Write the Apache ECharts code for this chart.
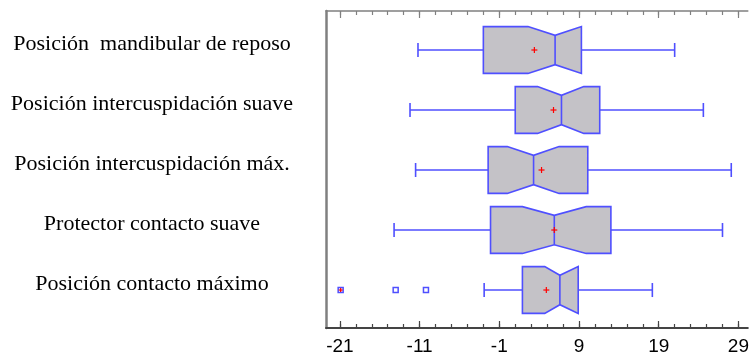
<!DOCTYPE html>
<html>
<head>
<meta charset="utf-8">
<script src="https://cdn.jsdelivr.net/npm/echarts@6/dist/echarts.min.js"></script>
<style>
  html, body { margin: 0; padding: 0; background: #fff; }
  #chart { width: 752px; height: 358px; }
</style>
</head>
<body>
<div id="chart"></div>
<script>
// Notched box plots of five mandibular positions
const categories = [
  'Posición  mandibular de reposo',
  'Posición intercuspidación suave',
  'Posición intercuspidación máx.',
  'Protector contacto suave',
  'Posición contacto máximo'
];
const whiskerLow  = [-11.2, -12.2, -11.5, -14.2, -2.9];
const q1          = [-3.0,   1.0,  -2.4,  -2.1,   1.9];
const notchLow    = [ 2.6,   3.8,   0.0,   1.9,   4.7];
const median      = [ 6.0,   6.8,   3.3,   5.9,   6.6];
const notchHigh   = [ 9.3,   9.6,   6.5,   9.9,   8.9];
const q3          = [ 9.3,  11.6,  10.1,  13.0,   8.9];
const whiskerHigh = [21.0,  24.6,  28.1,  27.0,  18.2];
const means       = [ 3.4,   5.8,   4.3,   5.9,   4.9];
// outside points: [value, category index]
const outsidePoints = [[-14.0, 4], [-10.2, 4]];
const farOutsidePoints = [[-20.9, 4]];
const tickLabels = [-21, -11, -1, 9, 19, 29];

const minorTicks = [];
for (let v = tickLabels[0]; v <= tickLabels[tickLabels.length - 1]; v += 2) minorTicks.push(v);

const AXIS_MIN = -22.74, AXIS_MAX = 30.18;
const BLUE = '#4f4fff';
const FILL = '#c4c2c7';

const boxData = categories.map((c, i) => [
  i + 1, whiskerLow[i], q1[i], notchLow[i], median[i], notchHigh[i], q3[i], whiskerHigh[i], means[i]
]);

function renderBox(params, api) {
  const y = api.value(0);
  const unit = api.size([0, 1])[1];
  const half = unit * 0.39, waist = unit * 0.245, cap = unit * 0.117;
  const X = v => api.coord([v, y])[0];
  const cy = api.coord([0, y])[1];
  const wl = X(api.value(1)), a = X(api.value(2)), nl = X(Math.max(api.value(3), api.value(2)));
  const md = X(api.value(4)), nh = X(Math.min(api.value(5), api.value(6))), b = X(api.value(6));
  const wh = X(api.value(7)), mn = X(api.value(8));
  const line = { stroke: BLUE, lineWidth: 1.6 };
  const children = [
    { type: 'line', shape: { x1: wl, y1: cy, x2: a, y2: cy }, style: line },
    { type: 'line', shape: { x1: b, y1: cy, x2: wh, y2: cy }, style: line },
    { type: 'line', shape: { x1: wl, y1: cy - cap, x2: wl, y2: cy + cap }, style: line },
    { type: 'line', shape: { x1: wh, y1: cy - cap, x2: wh, y2: cy + cap }, style: line },
    { type: 'polygon', shape: { points: [
        [a, cy - half], [nl, cy - half], [md, cy - waist], [nh, cy - half], [b, cy - half],
        [b, cy + half], [nh, cy + half], [md, cy + waist], [nl, cy + half], [a, cy + half]
      ] }, style: { fill: FILL, stroke: BLUE, lineWidth: 1.6 } },
    { type: 'line', shape: { x1: md, y1: cy - waist, x2: md, y2: cy + waist }, style: line },
    { type: 'line', shape: { x1: mn - 3, y1: cy, x2: mn + 3, y2: cy }, style: { stroke: '#ff0000', lineWidth: 1.2 } },
    { type: 'line', shape: { x1: mn, y1: cy - 3, x2: mn, y2: cy + 3 }, style: { stroke: '#ff0000', lineWidth: 1.2 } }
  ];
  return { type: 'group', children };
}

function renderPlus(params, api) {
  const p = api.coord([api.value(0), api.value(1)]);
  return { type: 'group', children: [
    { type: 'line', shape: { x1: p[0] - 2, y1: p[1], x2: p[0] + 2, y2: p[1] }, style: { stroke: '#ff0000', lineWidth: 1.2 } },
    { type: 'line', shape: { x1: p[0], y1: p[1] - 2, x2: p[0], y2: p[1] + 2 }, style: { stroke: '#ff0000', lineWidth: 1.2 } }
  ] };
}

const tickFont = { fontFamily: '"Liberation Sans Narrow", "Arial Narrow", "Liberation Sans", Arial, sans-serif', fontSize: 19, color: '#000' };

function xAxisDef(position, ticks, len, showLine, lineColor, showLabels) {
  return {
    type: 'value', position, min: AXIS_MIN, max: AXIS_MAX,
    axisLine: { show: showLine, onZero: false, lineStyle: { color: lineColor, width: position === 'bottom' ? 2 : 1.5 } },
    axisTick: { show: true, inside: true, length: len, customValues: ticks, lineStyle: { color: lineColor, width: 1.2 } },
    axisLabel: showLabels
      ? Object.assign({ show: true, customValues: tickLabels, margin: 9 }, tickFont)
      : { show: false },
    splitLine: { show: false }
  };
}

const chart = echarts.init(document.getElementById('chart'), null, { renderer: 'canvas' });
chart.setOption({
  animation: false,
  backgroundColor: '#fff',
  grid: { left: 326, right: 0, top: 11, bottom: 30, containLabel: false },
  xAxis: [
    xAxisDef('bottom', tickLabels, 7, true, '#444', true),
    xAxisDef('bottom', minorTicks, 4, false, '#444', false),
    xAxisDef('top', tickLabels, 7, true, '#808080', false),
    xAxisDef('top', minorTicks, 4, false, '#808080', false)
  ],
  yAxis: {
    type: 'value', inverse: true, min: 0.35, max: 5.633, position: 'left',
    axisLine: { show: true, onZero: false, lineStyle: { color: '#808080', width: 2.5 } },
    axisTick: { show: false },
    splitLine: { show: false },
    axisLabel: {
      customValues: categories.map((c, i) => i + 1),
      formatter: v => categories[Math.round(v) - 1] || '',
      margin: 174, align: 'center', verticalAlign: 'bottom',
      lineHeight: 12,
      fontFamily: '"Liberation Serif", "Times New Roman", serif', fontSize: 22, color: '#000'
    }
  },
  series: [
    { type: 'custom', xAxisIndex: 0, yAxisIndex: 0, renderItem: renderBox, data: boxData, z: 3 },
    {
      type: 'scatter', xAxisIndex: 0, yAxisIndex: 0, symbol: 'rect', symbolSize: 5,
      itemStyle: { color: '#fff', borderColor: BLUE, borderWidth: 1.5, opacity: 1 },
      data: outsidePoints.concat(farOutsidePoints).map(p => [p[0], p[1] + 1]), z: 4
    },
    { type: 'custom', xAxisIndex: 0, yAxisIndex: 0, renderItem: renderPlus,
      data: farOutsidePoints.map(p => [p[0], p[1] + 1]), z: 5 }
  ]
});
</script>
</body>
</html>
